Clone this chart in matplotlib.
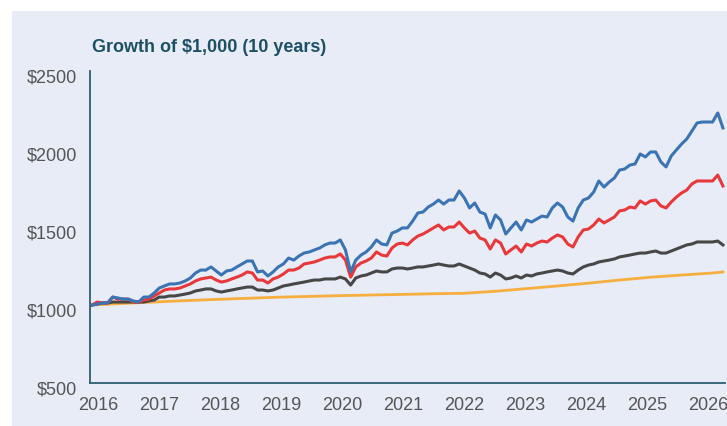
import matplotlib.pyplot as plt
import matplotlib.transforms as mtransforms
from matplotlib.patches import Rectangle
import numpy as np

# Growth of $1,000, one value per month
blue_vals = [1000, 1006, 1013, 1013, 1051, 1045, 1038, 1038, 1026, 1019, 1051, 1051,
             1077, 1109, 1122, 1135, 1135, 1141, 1154, 1173, 1205, 1224, 1224, 1244,
             1218, 1192, 1218, 1224, 1244, 1263, 1282, 1282, 1212, 1218, 1186, 1212,
             1244, 1263, 1301, 1288, 1314, 1333, 1340, 1353, 1365, 1385, 1397, 1397,
             1417, 1353, 1212, 1288, 1320, 1340, 1372, 1417, 1391, 1385, 1461, 1474,
             1494, 1494, 1538, 1590, 1596, 1628, 1647, 1673, 1647, 1673, 1673, 1731,
             1686, 1622, 1654, 1596, 1583, 1494, 1577, 1545, 1455, 1494, 1532, 1481,
             1545, 1532, 1551, 1570, 1564, 1622, 1654, 1628, 1564, 1538, 1622, 1673,
             1686, 1724, 1795, 1756, 1788, 1814, 1865, 1872, 1897, 1904, 1968, 1949,
             1981, 1981, 1917, 1885, 1955, 1994, 2032, 2064, 2115, 2167, 2173, 2173,
             2173, 2231, 2135]

red_vals = [1000, 1019, 1013, 1013, 1051, 1038, 1038, 1038, 1019, 1019, 1032, 1038,
            1058, 1077, 1096, 1103, 1103, 1109, 1122, 1135, 1154, 1167, 1173, 1179,
            1160, 1147, 1154, 1167, 1179, 1192, 1212, 1205, 1160, 1160, 1141, 1167,
            1179, 1199, 1224, 1224, 1237, 1263, 1269, 1276, 1288, 1301, 1308, 1308,
            1327, 1288, 1179, 1244, 1269, 1282, 1301, 1340, 1320, 1314, 1365, 1391,
            1397, 1385, 1417, 1442, 1455, 1474, 1494, 1513, 1481, 1500, 1500, 1532,
            1494, 1461, 1474, 1429, 1417, 1359, 1417, 1397, 1327, 1353, 1378, 1340,
            1391, 1378, 1397, 1410, 1404, 1429, 1449, 1436, 1391, 1372, 1436, 1481,
            1487, 1513, 1551, 1526, 1545, 1564, 1603, 1609, 1628, 1622, 1667, 1647,
            1667, 1673, 1635, 1622, 1660, 1692, 1718, 1737, 1776, 1795, 1795, 1795,
            1795, 1833, 1763]

gray_vals = [1000, 1006, 1013, 1013, 1019, 1019, 1019, 1019, 1019, 1019, 1019, 1026,
             1032, 1051, 1051, 1058, 1058, 1064, 1070, 1077, 1090, 1096, 1103, 1103,
             1090, 1083, 1090, 1096, 1103, 1109, 1115, 1115, 1096, 1096, 1090, 1096,
             1109, 1122, 1128, 1135, 1141, 1147, 1154, 1160, 1160, 1167, 1167, 1167,
             1179, 1167, 1128, 1173, 1186, 1192, 1205, 1218, 1212, 1212, 1231, 1237,
             1237, 1231, 1237, 1244, 1244, 1250, 1256, 1263, 1256, 1250, 1250, 1263,
             1250, 1237, 1224, 1205, 1199, 1179, 1205, 1192, 1167, 1173, 1186, 1173,
             1192, 1186, 1199, 1205, 1212, 1218, 1224, 1218, 1205, 1199, 1224, 1244,
             1256, 1263, 1276, 1282, 1288, 1295, 1308, 1314, 1320, 1327, 1333, 1333,
             1340, 1346, 1333, 1333, 1346, 1359, 1372, 1385, 1391, 1404, 1404, 1404,
             1404, 1410, 1385]

# smooth cash-like series, read every six months
orange_months = [0, 6, 12, 18, 24, 30, 36, 42, 48, 54, 60, 66, 72, 78, 84, 90,
                 96, 102, 108, 114, 120, 122]
orange_vals = [1000, 1010, 1019, 1028, 1036, 1043, 1050, 1055, 1060, 1064, 1068, 1072,
               1075, 1088, 1105, 1122, 1140, 1160, 1178, 1192, 1205, 1212]

years = [2016, 2017, 2018, 2019, 2020, 2021, 2022, 2023, 2024, 2025, 2026]
y_ticks = [500, 1000, 1500, 2000, 2500]

W, H = 727, 426
fig = plt.figure(figsize=(W / 100, H / 100), dpi=100)
fig.patch.set_facecolor('white')
fig.patches.append(Rectangle((12 / W, 0), 1, 1 - 11 / H, transform=fig.transFigure,
                             facecolor='#e8ecf6', edgecolor='none', zorder=-5))

ax = fig.add_axes([90 / W, 43 / H, 635 / W, 312 / H])
ax.set_facecolor('none')
ax.set_zorder(2)

ax.plot(orange_months, orange_vals, color='#f6ae3f', lw=2.0, zorder=2)
ax.plot(np.arange(len(gray_vals)), gray_vals, color='#474747', lw=2.2, zorder=3)
ax.plot(np.arange(len(red_vals)), red_vals, color='#e8383b', lw=2.2, zorder=4)
ax.plot(np.arange(len(blue_vals)), blue_vals, color='#3a74b4', lw=2.2, zorder=5)

ax.set_ylim(500, 2500)
ax.set_xlim(-0.4, 122.4)
ax.set_yticks(y_ticks)
ax.set_yticklabels([f'${v}' for v in y_ticks])
ax.set_xticks([1.2 + (yr - years[0]) * 11.8 for yr in years])
ax.set_xticklabels([str(yr) for yr in years])
ax.tick_params(length=0, labelsize=13, labelcolor='#555555')
ax.tick_params(axis='y', pad=9)
ax.tick_params(axis='x', pad=10)

for lab in ax.get_yticklabels():
    lab.set_fontfamily('Liberation Sans')
    lab.set_transform(lab.get_transform() +
                      mtransforms.ScaledTranslation(0, -0.05, fig.dpi_scale_trans))
for lab in ax.get_xticklabels():
    lab.set_fontfamily('Liberation Sans')

for side in ['top', 'right']:
    ax.spines[side].set_visible(False)
for side in ['left', 'bottom']:
    ax.spines[side].set_color('#2e5e70')
    ax.spines[side].set_linewidth(1.3)

fig.text(92 / W, 1 - 47 / H, 'Growth of $1,000 (10 years)', fontsize=13,
         fontweight='bold', color='#1e5064', family='Liberation Sans', va='center')

fig.savefig('out.png', dpi=100)
